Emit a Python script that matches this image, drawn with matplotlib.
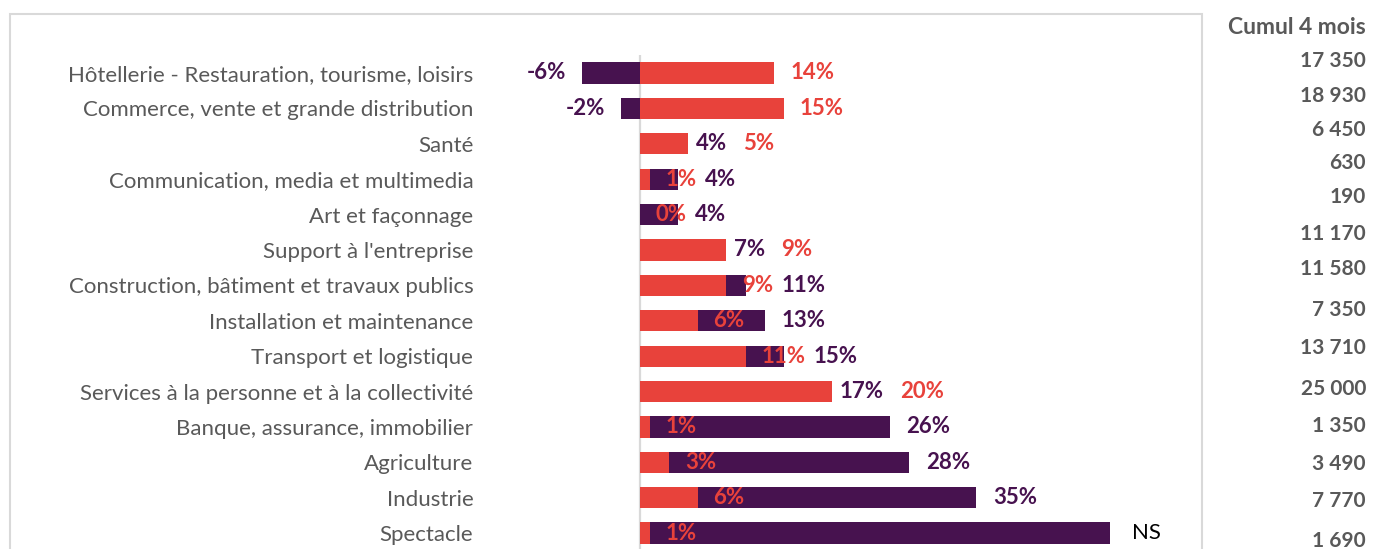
import matplotlib
matplotlib.use("Agg")
import matplotlib.pyplot as plt
from matplotlib.patches import Rectangle

# --- data -------------------------------------------------------------
categories = [
    "Hôtellerie - Restauration, tourisme, loisirs",
    "Commerce, vente et grande distribution",
    "Santé",
    "Communication, media et multimedia",
    "Art et façonnage",
    "Support à l'entreprise",
    "Construction, bâtiment et travaux publics",
    "Installation et maintenance",
    "Transport et logistique",
    "Services à la personne et à la collectivité",
    "Banque, assurance, immobilier",
    "Agriculture",
    "Industrie",
    "Spectacle",
]
red_values = [14, 15, 5, 1, 0, 9, 9, 6, 11, 20, 1, 3, 6, 1]
purple_values = [-6, -2, 4, 4, 4, 7, 11, 13, 15, 17, 26, 28, 35, 49]
purple_not_significant = [False] * 13 + [True]
cumul_title = "Cumul 4 mois"
cumul_values = [17350, 18930, 6450, 630, 190, 11170, 11580, 7350,
                13710, 25000, 1350, 3490, 7770, 1690]

# --- style ------------------------------------------------------------
RED = "#E8423B"
PURPLE = "#47124F"
GREY_TXT = "#595959"
FRAME = "#D9D9D9"
plt.rcParams["font.family"] = ["Lato", "DejaVu Sans"]
CAT_SIZE = 16
LABEL_SIZE = 16
CUMUL_SIZE = 15

W, H = 1373, 549
fig = plt.figure(figsize=(W / 100, H / 100), dpi=100)

# outer frame of the chart area
fig.patches.append(Rectangle((10 / W, -0.02), (1202 - 10) / W, 1 - 14 / H + 0.02,
                             transform=fig.transFigure, fill=False,
                             edgecolor=FRAME, lw=1.5, zorder=0))

ax_left, ax_right, ax_top = 490, 1200, 55.3
ax = fig.add_axes([ax_left / W, 0, (ax_right - ax_left) / W, 1 - ax_top / H])
px_per_unit = 9.6
ax.set_xlim(-(640 - ax_left) / px_per_unit, (ax_right - 640) / px_per_unit)
ax.set_ylim(13.45, -0.5)

y = list(range(len(categories)))
ax.barh(y, purple_values, height=0.6, color=PURPLE, zorder=2)
ax.barh(y, red_values, height=0.6, color=RED, zorder=3)
ax.axvline(0, color=FRAME, lw=1.6, zorder=1)

ax.set_yticks(y, categories, fontsize=CAT_SIZE, color=GREY_TXT)
ax.tick_params(axis="y", length=0, pad=12)
ax.set_xticks([])
for s in ax.spines.values():
    s.set_visible(False)

# --- value labels -----------------------------------------------------
fig.canvas.draw()
renderer = fig.canvas.get_renderer()


def to_px(x):
    return ax.transData.transform((x, 0))[0]


def to_data(px):
    return ax.transData.inverted().transform((px, 0))[0]


def put(xpx, row, text, color, ha="left", weight="bold"):
    t = ax.text(to_data(xpx), row, text, color=color, ha=ha, va="center",
                fontsize=LABEL_SIZE, fontweight=weight, zorder=5)
    return t.get_window_extent(renderer).x1


for i, (r, p) in enumerate(zip(red_values, purple_values)):
    r_end, p_end = to_px(r), to_px(p)
    r_txt = f"{r}%"
    if purple_not_significant[i]:
        put(r_end + 16, i, r_txt, RED)
        put(p_end + 22, i, "NS", "black", weight="normal")
    elif p < 0:
        put(p_end - 16, i, f"{p}%", PURPLE, ha="right")
        put(r_end + 16, i, r_txt, RED)
    elif r >= p:
        x1 = put(r_end + 8, i, f"{p}%", PURPLE)
        put(x1 + 16, i, r_txt, RED)
    else:
        x1 = put(r_end + 16, i, r_txt, RED)
        put(max(p_end + 17, x1 + 8), i, f"{p}%", PURPLE)

# --- cumulative column ------------------------------------------------
cumul_right = 1366
cumul_rows_px = [61, 96, 130, 163, 197, 234, 269, 310, 348, 389, 426, 464, 501, 541]
fig.text(cumul_right / W, 1 - 27 / H, cumul_title, ha="right", va="center",
         fontsize=CUMUL_SIZE + 1.5, fontweight="bold", color=GREY_TXT)
for v, ypx in zip(cumul_values, cumul_rows_px):
    fig.text(cumul_right / W, 1 - ypx / H, f"{v:,}".replace(",", " "),
             ha="right", va="center", fontsize=CUMUL_SIZE, fontweight="bold",
             color=GREY_TXT)

fig.savefig("out.png", dpi=100)
